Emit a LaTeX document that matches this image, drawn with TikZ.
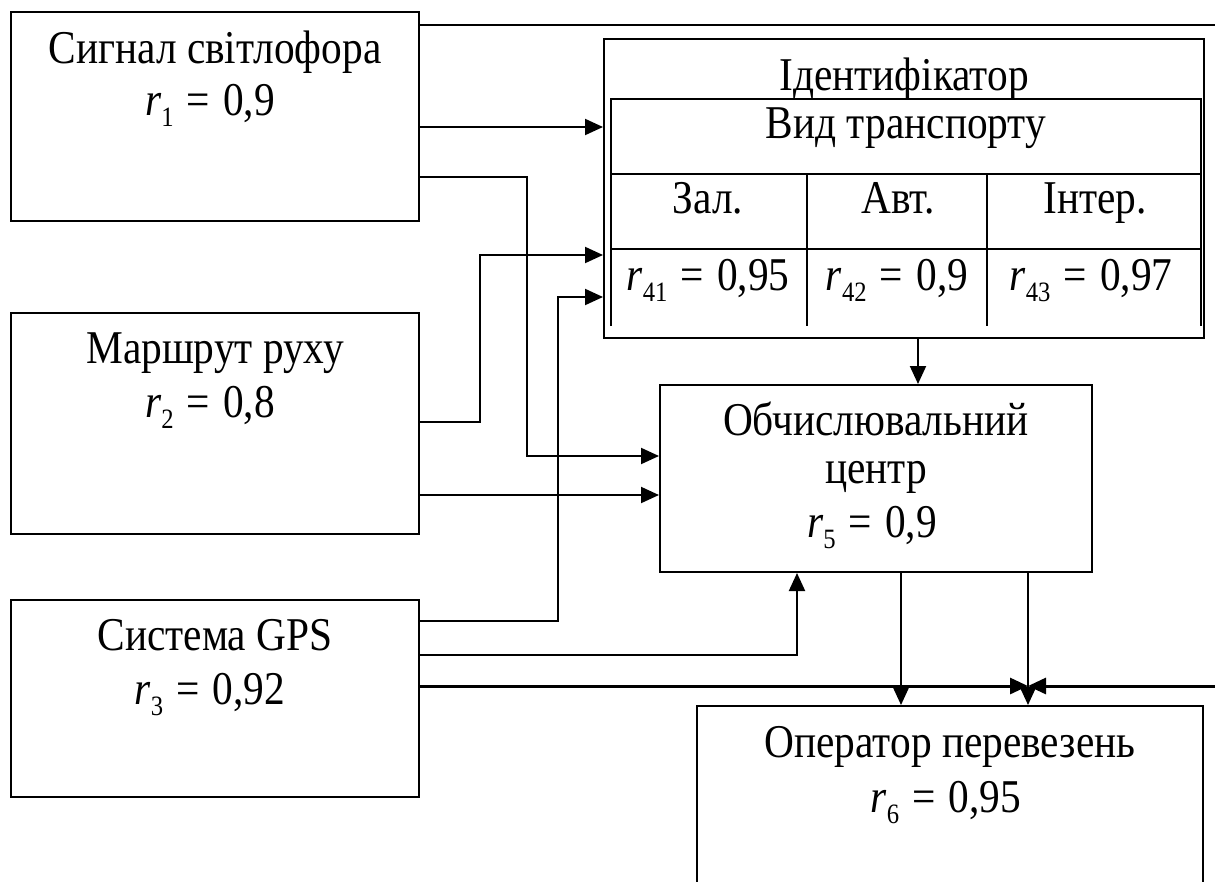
\documentclass[tikz,border=0pt]{standalone}
\usepackage{fontspec}
\setmainfont{Liberation Serif}[FakeStretch=0.88]
\usetikzlibrary{positioning,arrows.meta}
\newcommand{\rv}[2]{\textit{r}\raisebox{-0.25em}{\fontsize{28}{28}\selectfont #1}\hspace{0.28em}=\hspace{0.28em}#2}

\begin{document}
\begin{tikzpicture}[x=1pt,y=-1pt,
every node/.style={font=\fontsize{47}{54}\selectfont},
block/.style={draw,line width=2pt,rectangle,inner sep=0pt},
txt/.style={anchor=base,inner sep=0pt},
cell/.style={line width=2.5pt},
link/.style={line width=2pt},
arr/.style={line width=2pt,-{Triangle[length=18pt,width=16pt]}}]
\useasboundingbox (0,0) rectangle (1215,881);
% sources
\node[block,minimum width=408,minimum height=209] (sig) at (215,116.5) {};
\node[txt] (sigT) at (215,63) {Сигнал світлофора};
\node[txt] (sigR) at (210,115) {\rv{1}{0,9}};
\node[block,minimum width=408,minimum height=221] (route) at (215,423.5) {};
\node[txt] (routeT) at (215,363) {Маршрут руху};
\node[txt] (routeR) at (210,417) {\rv{2}{0,8}};
\node[block,minimum width=408,minimum height=197] (gps) at (215,698.5) {};
\node[txt] (gpsT) at (215,650) {Система GPS};
\node[txt] (gpsR) at (210,704) {\rv{3}{0,92}};
% identifier with its table
\node[block,minimum width=600,minimum height=299] (id) at (904,188.5) {};
\node[txt] (idT) at (904,90) {Ідентифікатор};
\draw[cell] (611,326) -- (611,99) -- (1201,99) -- (1201,326);
\draw[cell] (611,174) -- (1201,174) (611,249) -- (1201,249)
            (807,174) -- (807,326) (987,174) -- (987,326);
\node[txt] (vid) at (906,138) {Вид транспорту};
\node[txt] (zal) at (708,213) {Зал.};
\node[txt] (avt) at (898,213) {Авт.};
\node[txt] (inter) at (1095,213) {Інтер.};
\node[txt] (r41) at (708,290) {\rv{41}{0,95}};
\node[txt] (r42) at (897,290) {\rv{42}{0,9}};
\node[txt] (r43) at (1091,290) {\rv{43}{0,97}};
% centre and operator
\node[block,minimum width=432,minimum height=187] (comp) at (876,478.5) {};
\node[txt] (compT) at (876,435) {Обчислювальний};
\node[txt] (compM) at (876,483) {центр};
\node[txt] (compR) at (872,537) {\rv{5}{0,9}};
\node[block,minimum width=506,minimum height=240] (oper) at (950,826) {};
\node[txt] (operT) at (950,757) {Оператор перевезень};
\node[txt] (operR) at (946,812) {\rv{6}{0,95}};
% connectors
\coordinate (edgeA) at (1215,25);
\coordinate (edgeB) at (1215,686);
\coordinate (junc) at (1028,686);
\draw[link] (sig.east |- 0,25) -- (edgeA);
\draw[arr] (sig.east |- 0,127) -- (id.west |- 0,127);
\draw[arr] (sig.east |- 0,177) -| (527,456) -- (comp.west |- 0,456);
\draw[arr] (route.east |- 0,422) -| (480,255) -- (id.west |- 0,255);
\draw[arr] (route.east |- 0,495) -- (comp.west |- 0,495);
\draw[arr] (gps.east |- 0,621) -| (558,297) -- (id.west |- 0,297);
\draw[arr] (gps.east |- 0,655) -| (comp.south -| 797,0);
\draw[arr,line width=3pt] (gps.east |- junc) -- (junc);
\draw[arr,line width=3pt] (edgeB) -- (junc);
\draw[arr] (id.south -| 918,0) -- (comp.north -| 918,0);
\draw[arr] (comp.south -| 901,0) -- (oper.north -| 901,0);
\draw[arr] (comp.south -| junc) -- (oper.north -| junc);
\end{tikzpicture}
\end{document}
